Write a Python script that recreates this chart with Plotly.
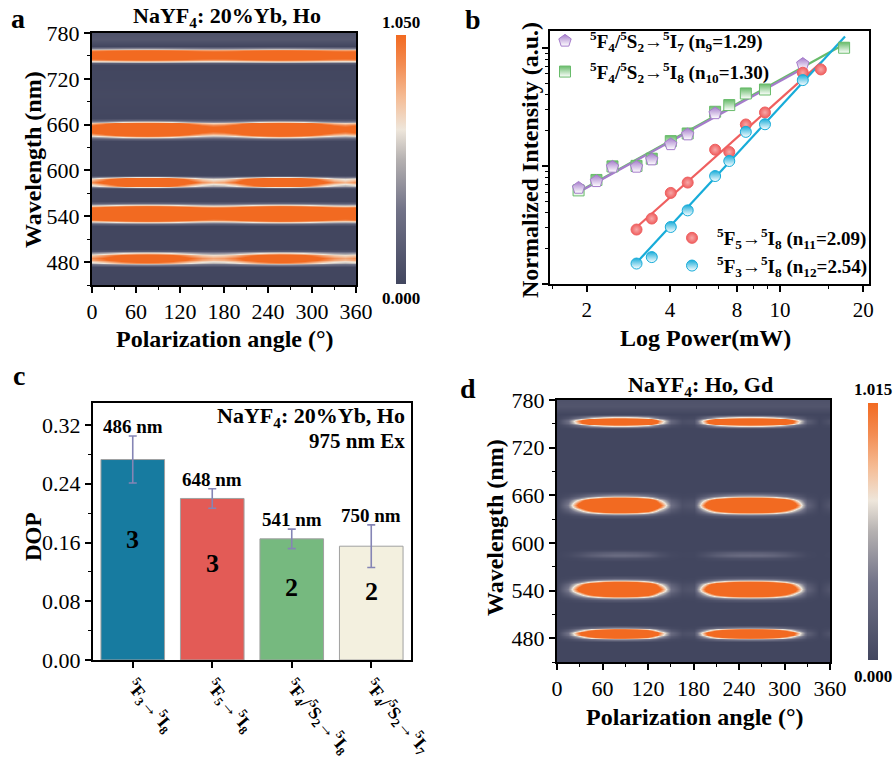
import math
import plotly.graph_objects as go

W, H = 896, 767
FONT = "Liberation Serif"

# ---------------- Panel a / d : polarization maps ----------------
angles = list(range(0, 361, 15))
# angular intensity shape (0..1)
shape_a = [0.1, 0.3, 0.55, 0.8, 0.95, 1.0, 0.95, 0.8, 0.55, 0.3, 0.1, 0.0, 0.05,
           0.2, 0.45, 0.7, 0.9, 1.0, 0.95, 0.8, 0.55, 0.3, 0.1, 0.0, 0.1]
shape_d = [0.0, 0.1, 0.35, 0.65, 0.88, 1.0, 1.0, 0.9, 0.7, 0.32, 0.08, 0.02, 0.03,
           0.3, 0.62, 0.85, 0.97, 1.0, 0.97, 0.85, 0.6, 0.3, 0.06, 0.0, 0.03]
# spectral line profiles (offset in band-width units, relative intensity)
prof_u = [-3.0, -2.5, -2.0, -1.5, -1.0, -0.5, 0.0, 0.5, 1.0, 1.5, 2.0, 2.5, 3.0]
prof_a = [0.0, 0.1, 0.35, 0.62, 0.8, 0.93, 1.0, 0.93, 0.8, 0.62, 0.35, 0.1, 0.0]
prof_d = [0.0, 0.04, 0.14, 0.32, 0.61, 0.88, 1.0, 0.88, 0.61, 0.32, 0.14, 0.04, 0.0]

centers_a = [485, 544, 585, 654, 751]
widths_a = [4.0, 5.5, 3.2, 5.0, 4.2]
hi_a = [1.5, 2.1, 1.9, 2.1, 1.6]
lo_a = [0.85, 1.5, 0.8, 1.15, 1.4]
bg_a = [(440, 0.0), (700, 0.02), (772, 0.12), (790, 0.05)]

centers_d = [486, 542, 585, 648, 753]
widths_d = [3.6, 5.7, 3.0, 5.8, 3.2]
hi_d = [3.0, 3.5, 0.25, 3.5, 2.8]
lo_d = [0.0, 0.0, 0.0, 0.0, 0.0]
bg_d = [(440, 0.0), (772, 0.1), (790, 0.05)]

cmax_a, cmax_d = 1.050, 1.015


def build_map(centers, widths, hi, lo, shape, prof, bg):
    rows = []
    for c, w, h, l in zip(centers, widths, hi, lo):
        mod = [l + (h - l) * s for s in shape]
        for u, v in zip(prof_u, prof):
            rows.append((c + u * w, [v * m for m in mod]))
    for y, val in bg:
        rows.append((y, [val] * len(shape)))
    rows.sort(key=lambda r: r[0])
    return [r[0] for r in rows], [r[1] for r in rows]


ya, za = build_map(centers_a, widths_a, hi_a, lo_a, shape_a, prof_a, bg_a)
yd, zd = build_map(centers_d, widths_d, hi_d, lo_d, shape_d, prof_d, bg_d)

cscale = [[0.0, "#42465F"], [0.3, "#727388"], [0.5, "#B5B1B1"], [0.62, "#EEE6DB"],
          [0.75, "#F5BC95"], [0.88, "#F38C52"], [1.0, "#F26A21"]]

# ---------------- Panel b : power dependence ----------------
P_purple = [1.87, 2.17, 2.48, 3.03, 3.44, 4.03, 4.64, 5.83, 12.1]
I_purple = [0.065, 0.074, 0.098, 0.098, 0.113, 0.152, 0.184, 0.278, 0.727]
P_green = [1.87, 2.17, 2.48, 3.03, 3.44, 4.03, 4.64, 5.83, 6.56, 7.53, 8.83, 17.07]
I_green = [0.062, 0.076, 0.099, 0.100, 0.115, 0.162, 0.188, 0.287, 0.327, 0.41, 0.443, 1.0]
P_red = [3.03, 3.44, 4.03, 4.64, 5.83, 6.56, 7.53, 8.83, 12.1, 14.06]
I_red = [0.0289, 0.0358, 0.059, 0.0722, 0.137, 0.131, 0.224, 0.283, 0.614, 0.655]
P_blue = [3.03, 3.44, 4.03, 4.64, 5.83, 6.56, 7.53, 8.83, 12.1]
I_blue = [0.0149, 0.0169, 0.0304, 0.042, 0.082, 0.11, 0.194, 0.225, 0.532]
slopes = [1.29, 1.30, 2.09, 2.54]
fit_lo = [1.87, 1.87, 3.03, 3.03]
fit_hi = [12.2, 17.07, 14.1, 17.2]
names_b = [
    "<sup>5</sup>F<sub>4</sub>/<sup>5</sup>S<sub>2</sub>→<sup>5</sup>I<sub>7</sub> (n<sub>9</sub>=1.29)",
    "<sup>5</sup>F<sub>4</sub>/<sup>5</sup>S<sub>2</sub>→<sup>5</sup>I<sub>8</sub> (n<sub>10</sub>=1.30)",
    "<sup>5</sup>F<sub>5</sub>→<sup>5</sup>I<sub>8</sub> (n<sub>11</sub>=2.09)",
    "<sup>5</sup>F<sub>3</sub>→<sup>5</sup>I<sub>8</sub> (n<sub>12</sub>=2.54)",
]
x_tickvals_b = [2, 4, 7, 10, 20]
x_ticktext_b = ["2", "4", "8", "10", "20"]

# ---------------- Panel c : DOP bars ----------------
cats_c = [
    "<sup>5</sup>F<sub>3</sub>→<sup>5</sup>I<sub>8</sub>",
    "<sup>5</sup>F<sub>5</sub>→<sup>5</sup>I<sub>8</sub>",
    "<sup>5</sup>F<sub>4</sub>/<sup>5</sup>S<sub>2</sub>→<sup>5</sup>I<sub>8</sub>",
    "<sup>5</sup>F<sub>4</sub>/<sup>5</sup>S<sub>2</sub>→<sup>5</sup>I<sub>7</sub>",
]
dop = [0.273, 0.220, 0.165, 0.155]
dop_err = [0.032, 0.0133, 0.0133, 0.029]
peak_nm = ["486 nm", "648 nm", "541 nm", "750 nm"]
order_c = ["3", "3", "2", "2"]
bar_colors = ["#177BA0", "#E35B56", "#76B97F", "#F3F0DF"]

fig = go.Figure()


def px(x):
    return x / W


def py(y):
    return 1 - y / H


# heatmaps
fig.add_trace(go.Heatmap(x=angles, y=ya, z=za, zsmooth="best", colorscale=cscale,
                         zmin=0, zmax=cmax_a, xaxis="x", yaxis="y",
                         colorbar=dict(x=px(396), xanchor="left", y=py(159.5), yanchor="middle",
                                       len=249, lenmode="pixels", thickness=10, xpad=0, ypad=0,
                                       outlinewidth=0, showticklabels=False, ticks="")))
fig.add_trace(go.Heatmap(x=angles, y=yd, z=zd, zsmooth="best", colorscale=cscale,
                         zmin=0, zmax=cmax_d, xaxis="x4", yaxis="y4",
                         colorbar=dict(x=px(868), xanchor="left", y=py(531.5), yanchor="middle",
                                       len=257, lenmode="pixels", thickness=10, xpad=0, ypad=0,
                                       outlinewidth=0, showticklabels=False, ticks="")))

# panel b  (style tuples); drawing order: green, purple, red, blue
series = [
    (P_purple, I_purple, "#A57CCB", "pentagon", "legend", "vertical", "white"),
    (P_green, I_green, "#68BB6A", "square", "legend", "vertical", "white"),
    (P_red, I_red, "#EF5F5F", "circle", "legend2", "radial", "#F7A8A8"),
    (P_blue, I_blue, "#17ACD9", "circle", "legend2", "vertical", "white"),
]
draw_order = [1, 0, 2, 3]
for k in draw_order:
    P, I, col, sym, leg, grad, gcol = series[k]
    n = slopes[k]
    b = sum(math.log10(i) - n * math.log10(p) for p, i in zip(P, I)) / len(P)
    fx = [fit_lo[k], fit_hi[k]]
    fy = [10 ** (b + n * math.log10(v)) for v in fx]
    fig.add_trace(go.Scatter(x=fx, y=fy, mode="lines", line=dict(color=col, width=2.2),
                             xaxis="x2", yaxis="y2", showlegend=False, hoverinfo="skip"))
for k in draw_order:
    P, I, col, sym, leg, grad, gcol = series[k]
    fig.add_trace(go.Scatter(x=P, y=I, mode="markers", name=names_b[k], legend=leg,
                             legendrank=k + 1, legendgroup="g%d" % k,
                             marker=dict(symbol=sym, size=11 if sym != "pentagon" else 13,
                                         color=col, line=dict(color=col, width=1),
                                         gradient=dict(type=grad, color=gcol)),
                             xaxis="x2", yaxis="y2"))

# panel c
fig.add_trace(go.Bar(x=cats_c, y=dop, marker=dict(color=bar_colors, line=dict(color="#A0A0A0", width=1)),
                     width=0.8, xaxis="x3", yaxis="y3", showlegend=False,
                     error_y=dict(type="data", array=dop_err, color="#8585B5", thickness=1.6, width=4)))

ax_common = dict(showline=True, linecolor="black", linewidth=2, mirror=True,
                 ticks="outside", ticklen=6, tickwidth=1.5, tickcolor="black",
                 showgrid=False, zeroline=False, automargin=False)
tf = dict(family=FONT, size=22, color="black")

minor_ang = dict(ticks="outside", ticklen=3, tickwidth=1.2, tickcolor="black", dtick=30, showgrid=False)
minor_wl = dict(ticks="outside", ticklen=3, tickwidth=1.2, tickcolor="black", dtick=30, tick0=450,
                showgrid=False)

leg_font = dict(family=FONT, size=19, color="black", weight="bold")
fig.update_layout(
    width=W, height=H, margin=dict(l=0, r=0, t=0, b=0, autoexpand=False),
    paper_bgcolor="white", plot_bgcolor="white",
    font=dict(family=FONT, color="black"),
    xaxis=dict(domain=[px(92), px(356)], anchor="y", range=[0, 360], tickvals=list(range(0, 361, 60)),
               minor=minor_ang, tickfont=tf, **ax_common),
    yaxis=dict(domain=[py(285), py(33)], anchor="x", range=[450, 780], tickvals=list(range(480, 781, 60)),
               minor=minor_wl, tickfont=tf, **ax_common),
    xaxis4=dict(domain=[px(557), px(830)], anchor="y4", range=[0, 360], tickvals=list(range(0, 361, 60)),
                minor=minor_ang, tickfont=tf, **ax_common),
    yaxis4=dict(domain=[py(662), py(400)], anchor="x4", range=[450, 780], tickvals=list(range(480, 781, 60)),
                minor=minor_wl, tickfont=tf, **ax_common),
    xaxis2=dict(domain=[px(550), px(869)], anchor="y2", type="log",
                range=[math.log10(1.474), math.log10(21.0)],
                tickvals=x_tickvals_b, ticktext=x_ticktext_b,
                minor=dict(ticks="outside", ticklen=3, tickwidth=1.2, tickcolor="black",
                           tickvals=[1.5, 3, 5, 6, 8, 9, 15], showgrid=False),
                tickfont=dict(family=FONT, size=21, color="black"), **ax_common),
    yaxis2=dict(domain=[py(284), py(31)], anchor="x2", type="log", range=[-2, 0.1415],
                tickvals=[0.01, 0.1, 1], showticklabels=False,
                minor=dict(ticks="outside", ticklen=3, tickwidth=1.2, tickcolor="black",
                           tickvals=[m * 10 ** e for e in (-2, -1, 0) for m in range(2, 10)], showgrid=False),
                **ax_common),
    xaxis3=dict(domain=[px(93), px(411)], anchor="y3", tickangle=50,
                tickfont=dict(family=FONT, size=18, color="black", weight="bold"), **ax_common),
    yaxis3=dict(domain=[py(660), py(403)], anchor="x3", range=[0, 0.35], tickvals=[0, 0.08, 0.16, 0.24, 0.32],
                tickformat=".2f",
                minor=dict(ticks="outside", ticklen=3, tickwidth=1.2, tickcolor="black", dtick=0.04, showgrid=False),
                tickfont=tf, **ax_common),
    legend=dict(x=px(540), y=py(22), xanchor="left", yanchor="top", bgcolor="rgba(0,0,0,0)",
                font=leg_font, itemsizing="trace", itemwidth=40, tracegroupgap=3),
    legend2=dict(x=px(872), y=py(285), xanchor="right", yanchor="bottom", bgcolor="rgba(0,0,0,0)",
                 font=leg_font, itemsizing="trace", itemwidth=40, tracegroupgap=0),
    bargap=0.2,
)

ann = []


def A(x, y, text, size, bold=True, angle=0, xanchor="center", yanchor="middle", **kw):
    ann.append(dict(x=px(x), y=py(y), xref="paper", yref="paper", text=text, showarrow=False,
                    textangle=angle, xanchor=xanchor, yanchor=yanchor,
                    font=dict(family=FONT, size=size, color="black", weight="bold" if bold else "normal"),
                    **kw))


# panel letters
A(18, 18, "a", 28)
A(473, 19, "b", 28)
A(19, 376, "c", 28)
A(468, 388, "d", 28)
# titles
A(227, 17, "NaYF<sub>4</sub>: 20%Yb, Ho", 22)
A(700, 386, "NaYF<sub>4</sub>: Ho, Gd", 22)
# colorbar labels
A(401, 22, "1.050", 17)
A(401, 298, "0.000", 17)
A(873, 389, "1.015", 17)
A(873, 676, "0.000", 17)
# axis titles
A(225, 339, "Polarization angle (°)", 24)
A(33, 160, "Wavelength (nm)", 24, angle=-90)
A(705, 338, "Log Power(mW)", 24)
A(530, 160, "Normalized Intensity (a.u.)", 24, angle=-90)
A(33, 537, "DOP", 23, angle=-90)
A(695, 717, "Polarization angle (°)", 24)
A(495, 527, "Wavelength (nm)", 24, angle=-90)
# panel c texts
A(407, 417, "NaYF<sub>4</sub>: 20%Yb, Ho", 22, xanchor="right")
A(407, 441, "975 nm Ex", 21, xanchor="right")
for i in range(len(cats_c)):
    ann.append(dict(x=cats_c[i], y=dop[i] + dop_err[i], xref="x3", yref="y3", text=peak_nm[i],
                    showarrow=False, yanchor="bottom", yshift=-3,
                    font=dict(family=FONT, size=19, color="black", weight="bold")))
    ann.append(dict(x=cats_c[i], y=dop[i] * 0.6, xref="x3", yref="y3", text=order_c[i],
                    showarrow=False, font=dict(family=FONT, size=26, color="black", weight="bold")))

fig.update_layout(annotations=ann)
fig.write_html("out.html")
